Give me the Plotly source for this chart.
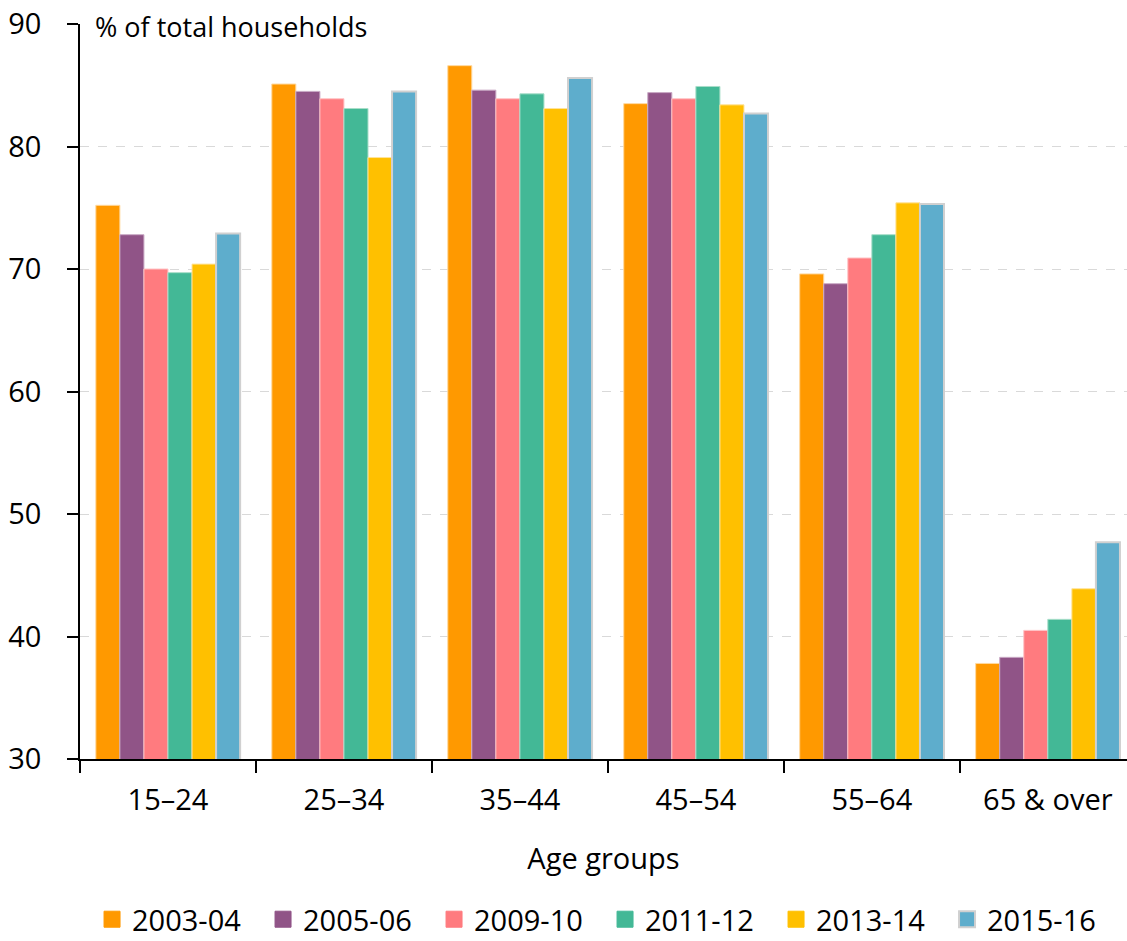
import plotly.graph_objects as go

categories = ["15–24", "25–34", "35–44", "45–54", "55–64", "65 & over"]
series_names = ["2003-04", "2005-06", "2009-10", "2011-12", "2013-14", "2015-16"]
v_2003_04 = [75.2, 85.1, 86.6, 83.5, 69.6, 37.8]
v_2005_06 = [72.8, 84.5, 84.6, 84.4, 68.8, 38.3]
v_2009_10 = [70.0, 83.9, 83.9, 83.9, 70.9, 40.5]
v_2011_12 = [69.7, 83.1, 84.3, 84.9, 72.8, 41.4]
v_2013_14 = [70.4, 79.1, 83.1, 83.4, 75.4, 43.9]
v_2015_16 = [72.9, 84.5, 85.6, 82.7, 75.3, 47.7]
values = [v_2003_04, v_2005_06, v_2009_10, v_2011_12, v_2013_14, v_2015_16]

colors = ["#FF9900", "#905487", "#FF7B7F", "#43B896", "#FFC000", "#5EADCC"]
outlines = ["#FFD9A0", "#C9A9C4", "#FFC4C6", "#A8DEC9", "#FFE39A", "#D0D0D0"]
outline_w = [1, 1, 1, 1, 1, 2]

FONT = "Open Sans"

fig = go.Figure()
for name, vals, c, oc, ow in zip(series_names, values, colors, outlines, outline_w):
    fig.add_trace(go.Bar(
        x=categories, y=vals, name=name, showlegend=False, legendgroup=name,
        marker=dict(color=c, line=dict(color=oc, width=ow)),
    ))
# legend swatches (square markers)
for name, c, oc, ow in zip(series_names, colors, outlines, outline_w):
    fig.add_trace(go.Scatter(
        x=[None], y=[None], name=name, mode="markers", legendgroup=name,
        marker=dict(symbol="square", size=18, color=c,
                    line=dict(color=oc if ow > 1 else c, width=ow)),
        showlegend=True,
    ))

fig.update_layout(
    width=1127, height=941,
    margin=dict(l=80, r=0, t=24, b=182),
    paper_bgcolor="white", plot_bgcolor="white",
    barmode="group", bargap=0.18, bargroupgap=0,
    font=dict(family=FONT, size=29, color="#000000"),
    showlegend=True,
    legend=dict(orientation="h", x=0.0115, xanchor="left",
                yref="container", y=0.023, yanchor="middle",
                font=dict(size=29), itemwidth=30, tracegroupgap=0,
                entrywidth=126, entrywidthmode="pixels"),
    xaxis=dict(
        range=[-0.5, 5.45], showline=True, linecolor="#000000", linewidth=1.5,
        ticks="outside", tickson="boundaries", ticklen=12, tickcolor="#000000", tickwidth=1.5,
        showgrid=False, tickfont=dict(size=29), ticklabelstandoff=14,
        title=dict(text="Age groups", font=dict(size=29), standoff=32),
    ),
    yaxis=dict(
        range=[30, 90], dtick=10, showline=True, linecolor="#000000", linewidth=1.5,
        ticks="outside", ticklen=11, tickcolor="#000000", tickwidth=1.5,
        showgrid=True, gridcolor="#D9D9D9", griddash="dash", gridwidth=1,
        tickfont=dict(size=29), zeroline=False, ticklabelstandoff=20,
        ticklabeloverflow="allow",
    ),
    annotations=[dict(
        text="% of total households", xref="paper", yref="paper",
        x=0.0124, y=0.997, xanchor="left", yanchor="middle", showarrow=False,
        font=dict(size=27), bgcolor="white",
    )],
)

fig.write_html(
    "out.html",
    config={"displayModeBar": False},
    post_script="document.body.style.margin='0';document.body.style.overflow='hidden';",
)
